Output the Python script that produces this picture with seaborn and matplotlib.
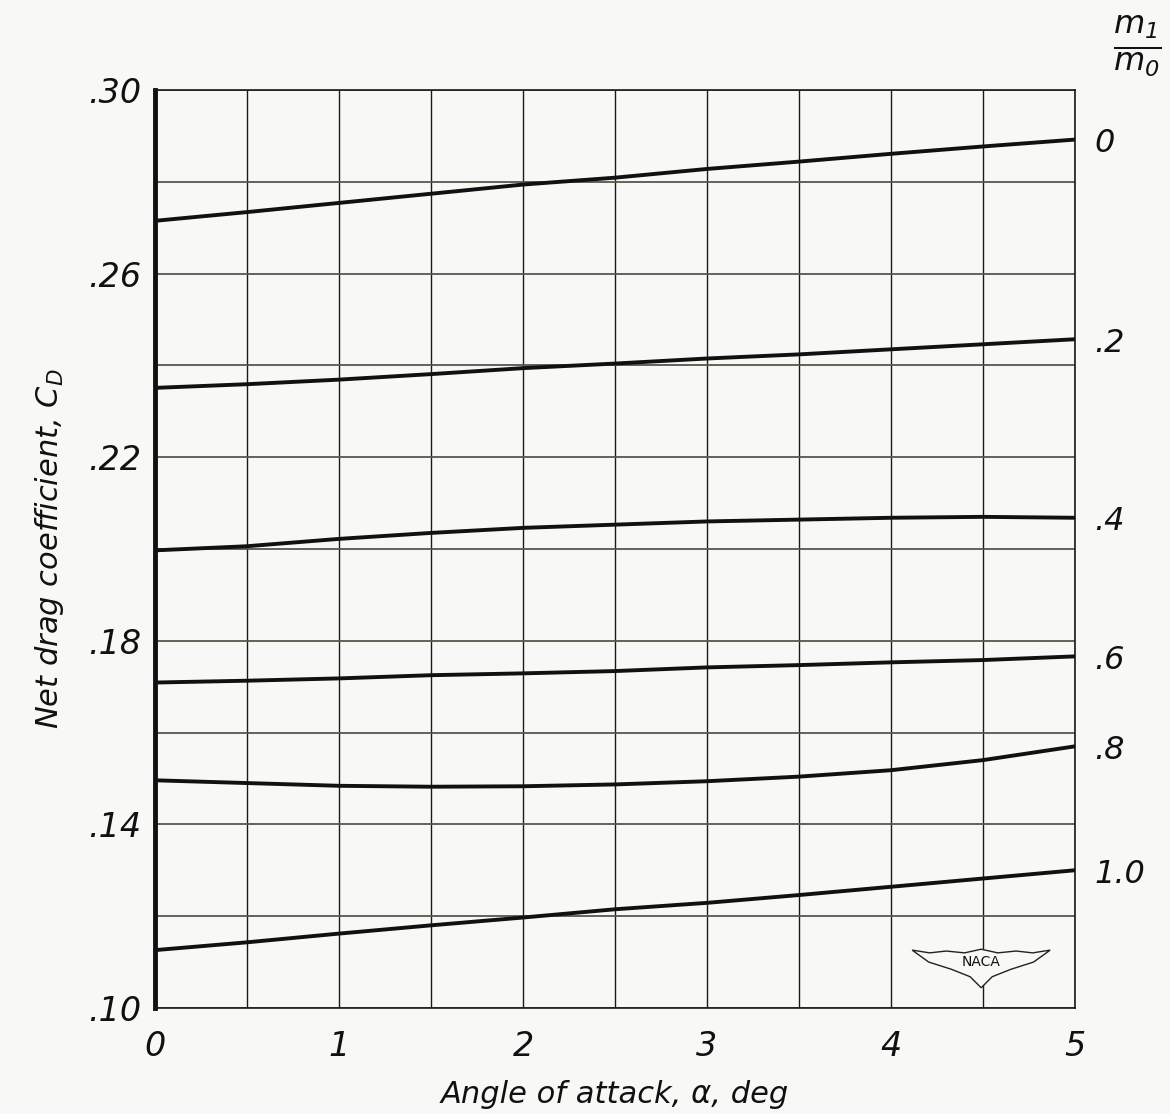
import numpy as np
import pandas as pd
import matplotlib
matplotlib.use('Agg')
import matplotlib.pyplot as plt
import seaborn as sns
from matplotlib.patches import Polygon

# angle of attack, deg
alpha = [0, 0.5, 1, 1.5, 2, 2.5, 3, 3.5, 4, 4.5, 5]

# net drag coefficient for each mass-flow ratio m1/m0
cd_m00 = [0.2715, 0.2734, 0.2754, 0.2774, 0.2794, 0.2809, 0.2828, 0.2844, 0.2861, 0.2877, 0.2892]
cd_m02 = [0.2351, 0.2359, 0.2369, 0.2381, 0.2394, 0.2404, 0.2415, 0.2424, 0.2435, 0.2446, 0.2457]
cd_m04 = [0.1997, 0.2006, 0.2022, 0.2035, 0.2046, 0.2053, 0.2060, 0.2064, 0.2068, 0.2070, 0.2068]
cd_m06 = [0.1709, 0.1713, 0.1718, 0.1725, 0.1729, 0.1734, 0.1742, 0.1747, 0.1753, 0.1758, 0.1766]
cd_m08 = [0.1496, 0.1490, 0.1484, 0.1482, 0.1483, 0.1487, 0.1494, 0.1504, 0.1518, 0.1540, 0.1570]
cd_m10 = [0.1126, 0.1143, 0.1162, 0.1180, 0.1197, 0.1215, 0.1229, 0.1246, 0.1264, 0.1282, 0.1300]

ratio_labels = ['0', '.2', '.4', '.6', '.8', '1.0']
series = [cd_m00, cd_m02, cd_m04, cd_m06, cd_m08, cd_m10]

x_ticks = [0, 1, 2, 3, 4, 5]
y_ticks = [0.10, 0.14, 0.18, 0.22, 0.26, 0.30]
y_tick_labels = ['.10', '.14', '.18', '.22', '.26', '.30']

# long-form table for seaborn
rows = []
for lab, vals in zip(ratio_labels, series):
    for a, v in zip(alpha, vals):
        rows.append({'alpha': a, 'cd': v, 'ratio': lab})
df = pd.DataFrame(rows)

sns.set_style('white')
plt.rcParams['font.family'] = ['DejaVu Sans']
plt.rcParams['font.style'] = 'italic'
plt.rcParams['mathtext.fontset'] = 'dejavusans'
plt.rcParams['text.color'] = '#111111'
plt.rcParams['axes.labelcolor'] = '#111111'
plt.rcParams['xtick.color'] = '#111111'
plt.rcParams['ytick.color'] = '#111111'

bg = '#f8f8f6'
fig = plt.figure(figsize=(11.7, 11.14), dpi=100, facecolor=bg)
ax = fig.add_axes([0.1325, 0.0952, 0.7863, 0.824])
ax.set_facecolor(bg)

sns.lineplot(data=df, x='alpha', y='cd', hue='ratio', palette=['#111111'] * 6,
             linewidth=2.8, legend=False, ax=ax, zorder=3)

ax.set_xlim(0, 5)
ax.set_ylim(0.10, 0.30)
ax.set_xticks(x_ticks)
ax.set_xticklabels([str(t) for t in x_ticks])
ax.set_xticks(np.arange(0.5, 5, 1.0), minor=True)
ax.set_yticks(y_ticks)
ax.set_yticklabels(y_tick_labels)
ax.set_yticks(np.arange(0.12, 0.30, 0.04), minor=True)

ax.grid(axis='x', which='both', color='#1a1a1a', linewidth=1.0, zorder=1)
ax.grid(axis='y', which='both', color='#55584a', linewidth=1.3, zorder=1)
ax.tick_params(axis='both', which='both', length=0, labelsize=24, labelcolor='#111111')
ax.tick_params(axis='x', pad=16)
ax.tick_params(axis='y', pad=10)

for side in ['top', 'right', 'bottom']:
    ax.spines[side].set_color('#1a1a1a')
    ax.spines[side].set_linewidth(1.2)
ax.spines['left'].set_color('#111111')
ax.spines['left'].set_linewidth(3.5)

ax.set_xlabel('Angle of attack, α, deg', fontsize=22, labelpad=12)
ax.set_ylabel('Net drag coefficient, $C_D$', fontsize=22, labelpad=16)

# curve labels at the right end
for lab, vals in zip(ratio_labels, series):
    ax.annotate(lab, xy=(alpha[-1], vals[-1]), xytext=(14, -3),
                textcoords='offset points', ha='left', va='center',
                fontsize=23, annotation_clip=False)

fig.text(1137 / 1170, 1 - 46 / 1114, r'$\frac{m_1}{m_0}$', fontsize=33,
         ha='center', va='center')

# NACA wing mark
wing = [(0.823, 0.063), (0.842, 0.060), (0.860, 0.062), (0.880, 0.060), (0.898, 0.064),
        (0.916, 0.060), (0.936, 0.062), (0.954, 0.060), (0.973, 0.063),
        (0.955, 0.050), (0.930, 0.042), (0.910, 0.034), (0.898, 0.022),
        (0.886, 0.034), (0.866, 0.042), (0.841, 0.050)]
ax.add_patch(Polygon(wing, closed=True, transform=ax.transAxes, facecolor=bg,
                     edgecolor='#222222', linewidth=1.0, zorder=4))
ax.text(0.898, 0.050, 'NACA', transform=ax.transAxes, fontsize=10, style='normal',
        ha='center', va='center', zorder=5)

fig.savefig('out.png', dpi=100, facecolor=bg)
